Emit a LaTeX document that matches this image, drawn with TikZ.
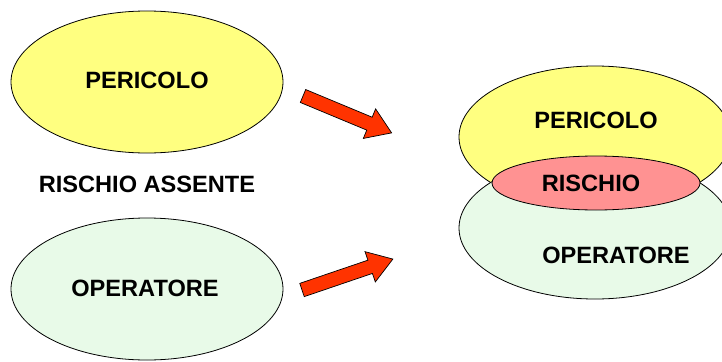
\documentclass[tikz,border=0pt]{standalone}
\usepackage{fontspec}
\setmainfont{Liberation Sans}
\usetikzlibrary{shapes.geometric}
\definecolor{hazardyellow}{RGB}{255,255,128}
\definecolor{workergreen}{RGB}{232,250,232}
\definecolor{riskred}{RGB}{255,146,146}
\definecolor{arrowred}{RGB}{255,51,0}
\tikzset{
  blob/.style={ellipse, draw=black, line width=0.8pt, inner sep=0pt,
    minimum width=272pt, minimum height=142pt},
  label text/.style={font=\fontsize{23.6}{28}\selectfont\bfseries, inner sep=0pt},
  block arrow/.style={draw=black, line width=0.7pt, fill=arrowred, line join=miter}
}
% block arrow along the local x axis: tail at the origin, tip at 96pt
\newcommand\drawblockarrow[2]{%
  \begin{scope}[shift={#1}, rotate=#2]
    \draw[block arrow] (0,7) -- (72,7) -- (72,16) -- (96,0) -- (72,-16)
      -- (72,-7) -- (0,-7) -- cycle;
  \end{scope}}
\begin{document}
\begin{tikzpicture}[x=1pt, y=1pt]
  \useasboundingbox (0,0) rectangle (722,-361);
  \clip (0,0) rectangle (722,-361);

  % separate hazard and worker
  \node[blob, fill=hazardyellow] (hazA) at (147,-82) {};
  \node[label text] (hazAtext) at (147,-80) {PERICOLO};
  \node[label text] (absent) at (147,-184) {RISCHIO ASSENTE};
  \node[blob, fill=workergreen] (workA) at (147,-289) {};
  \node[label text] (workAtext) at (145,-288) {OPERATORE};

  % arrows towards the overlap
  \drawblockarrow{(303,-96)}{-22.6}
  \drawblockarrow{(302,-290)}{18.8}

  % overlapping hazard and worker give the risk
  \node[blob, fill=hazardyellow] (hazB) at (595,-137) {};
  \node[blob, fill=workergreen] (workB) at (595,-228) {};
  \node[ellipse, draw=black, line width=0.8pt, fill=riskred,
        minimum width=208pt, minimum height=54pt, inner sep=0pt] (risk) at (596,-183) {};
  \node[label text] (hazBtext) at (596,-120) {PERICOLO};
  \node[label text] (risktext) at (591,-183) {RISCHIO};
  \node[label text] (workBtext) at (616,-255) {OPERATORE};
\end{tikzpicture}
\end{document}
